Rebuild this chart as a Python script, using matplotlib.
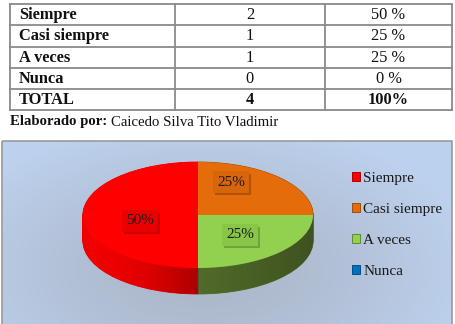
import numpy as np
import matplotlib
matplotlib.use("Agg")
import matplotlib.pyplot as plt
from matplotlib.patches import Rectangle, Polygon
import matplotlib.patheffects as pe

# ---------------- data ----------------
categories = ["Siempre", "Casi siempre", "A veces", "Nunca"]
counts = [2, 1, 1, 0]
percents = ["50 %", "25 %", "25 %", "0 %"]
total_label = "TOTAL"
total_count = 4
total_pct = "100%"
caption_bold = "Elaborado por:"
caption_text = "Caicedo Silva Tito Vladimir"
slice_labels = ["50%", "25%", "25%", ""]

# ---------------- style ----------------
top_colors = ["#FF0000", "#E46C0A", "#92D050", "#0070C0"]
side_colors = ["#F00000", "#A04C06", "#56702C", "#004E88"]
legend_edges = ["#B00000", "#A04C06", "#5E8A30", "#004E88"]
label_box_colors = ["#EA0000", "#D6650B", "#88C648", "#0070C0"]
serif = ["Liberation Serif", "DejaVu Serif"]

W, H = 456, 324
fig = plt.figure(figsize=(W / 100, H / 100), dpi=100)
ax = fig.add_axes([0, 0, 1, 1])
ax.set_xlim(0, W)
ax.set_ylim(H, 0)
ax.axis("off")

# ---------------- table ----------------
x_cols = [10, 175, 325, 452]
y_rows = [4, 25, 47, 68, 89, 110]
grid = "#8a8a8a"
for y in y_rows:
    ax.plot([x_cols[0], x_cols[-1]], [y, y], color=grid, lw=1.3, solid_capstyle="projecting")
for x in x_cols:
    ax.plot([x, x], [y_rows[0], y_rows[-1]], color=grid, lw=1.3, solid_capstyle="projecting")

rows = list(zip(categories, counts, percents)) + [(total_label, total_count, total_pct)]
for i, (c, n, p) in enumerate(rows):
    yc = (y_rows[i] + y_rows[i + 1]) / 2 + 0.5
    last = i == len(rows) - 1
    ax.text(19, yc, c, fontsize=11.8, family=serif, weight="bold", va="center", color="#111111")
    ax.text((x_cols[1] + x_cols[2]) / 2, yc, str(n), fontsize=11.8, family=serif,
            weight="bold" if last else "normal", ha="center", va="center", color="#111111")
    ax.text((x_cols[2] + x_cols[3]) / 2, yc, p, fontsize=11.8, family=serif,
            weight="bold" if last else "normal", ha="center", va="center", color="#111111")

# caption
t1 = ax.text(10, 122, caption_bold, fontsize=10.6, family=serif, weight="bold",
             va="center", color="#111111")
fig.canvas.draw()
bb = t1.get_window_extent(fig.canvas.get_renderer())
ax.text(bb.x1 + 4, 122, caption_text, fontsize=10.6, family=serif, va="center", color="#111111")

# ---------------- chart box with gradient ----------------
bx0, bx1, by0, by1 = 2, 452, 141, 326
nx, ny = 300, 150
gx = np.linspace(bx0, bx1, nx)
gy = np.linspace(by0, by1, ny)
GX, GY = np.meshgrid(gx, gy)
r = np.sqrt(((GX - 205) / 270) ** 2 + ((GY - 270) / 150) ** 2)
r = np.clip(r, 0, 1) ** 1.3
c0 = np.array([0.67, 0.71, 0.78])
c1 = np.array([0.74, 0.82, 0.93])
img = c0[None, None, :] * (1 - r[..., None]) + c1[None, None, :] * r[..., None]
ax.imshow(img, extent=[bx0, bx1, by1, by0], aspect="auto", zorder=0, interpolation="bilinear")
ax.add_patch(Rectangle((bx0, by0), bx1 - bx0, by1 - by0, fill=False,
                       edgecolor="#9a9a9a", lw=1.2, zorder=2))
ax.set_xlim(0, W)
ax.set_ylim(H, 0)

# ---------------- 3D pie ----------------
px0, px1 = 83, 313
py_top, py_bot_top = 162, 268
depth_px = 26
ry_px = (py_bot_top - py_top) / 2
rx_px = (px1 - px0) / 2
d = depth_px / ry_px
m = 0.05
ax_l = px0 - m * rx_px
ax_r = px1 + m * rx_px
ax_t = py_top - m * ry_px
ax_b = py_bot_top + depth_px + m * ry_px
pax = fig.add_axes([ax_l / W, 1 - ax_b / H, (ax_r - ax_l) / W, (ax_b - ax_t) / H])
pax.patch.set_alpha(0)

nlayers = 40
for k in range(nlayers + 1):
    off = -d * (1 - k / nlayers)
    pax.pie(counts, colors=side_colors, startangle=270, counterclock=False,
            center=(0, off), wedgeprops=dict(linewidth=0.6), normalize=True)
    for w in pax.patches[-len(counts):]:
        w.set_edgecolor(w.get_facecolor())

# horizontal shading of the side wall
th = np.linspace(np.pi, 2 * np.pi, 200)
outline = np.concatenate([
    np.column_stack([np.cos(th), np.sin(th)]),
    np.column_stack([np.cos(th[::-1]), np.sin(th[::-1]) - d]),
])
clip = Polygon(outline, closed=True, transform=pax.transData, fc="none", ec="none")
pax.add_patch(clip)
sx = np.linspace(-1, 1, 400)
alpha = np.where(sx < 0, 0.30 * (sx + 1) ** 2.2, 0.05 + 0.22 * sx)
shade = np.zeros((2, sx.size, 4))
shade[..., 3] = alpha[None, :]
im = pax.imshow(shade, extent=[-1, 1, -1 - d, 0], aspect="auto", zorder=3,
                interpolation="bilinear")
im.set_clip_path(clip)

wedges, _ = pax.pie(counts, colors=top_colors, startangle=270, counterclock=False,
                    center=(0, 0), wedgeprops=dict(linewidth=0, zorder=5), normalize=True)
for w in wedges:
    w.set_zorder(5)
pax.set_aspect("auto")
pax.set_xlim(-1 - m, 1 + m)
pax.set_ylim(-1 - d - m, 1 + m)
pax.axis("off")

# overlay axes for labels and legend
ov = fig.add_axes([0, 0, 1, 1])
ov.set_xlim(0, W)
ov.set_ylim(H, 0)
ov.axis("off")
ov.patch.set_alpha(0)

label_pos = [(140, 221), (231, 182), (240, 235), None]
for lab, pos, bc in zip(slice_labels, label_pos, label_box_colors):
    if not lab or pos is None:
        continue
    t = ov.text(pos[0], pos[1], lab, fontsize=11, family=serif, ha="center",
                va="center", color="#1a1a1a",
                bbox=dict(boxstyle="square,pad=0.28", fc=bc, ec="none"))
    t.get_bbox_patch().set_path_effects([
        pe.withSimplePatchShadow(offset=(1.5, -1.8), shadow_rgbFace="k", alpha=0.22)])

handles = [Rectangle((0, 0), 1, 1, fc=c, ec=s, lw=0.7) for c, s in zip(top_colors, legend_edges)]
leg = ov.legend(handles, categories, loc="upper left", bbox_to_anchor=(352 / W, 1 - 172 / H),
                bbox_transform=fig.transFigure, frameon=False, prop={"family": serif, "size": 11},
                handlelength=0.55, handleheight=0.55, handletextpad=0.2, labelspacing=1.17,
                borderpad=0, borderaxespad=0)
for txt in leg.get_texts():
    txt.set_color("#1a1a1a")

fig.savefig("out.png", dpi=100)
